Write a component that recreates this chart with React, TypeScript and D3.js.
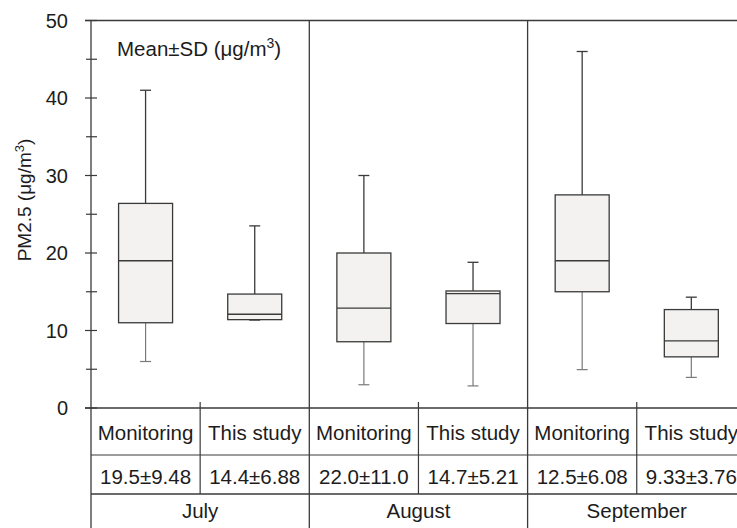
import React from 'react';
import * as d3 from 'd3';

const months = ['July', 'August', 'September'];
const groups = ['Monitoring', 'This study'];

// [whiskerLow, q1, median, q3, whiskerHigh] per month, per group
const monitoringStats = [
  [6.0, 11.0, 19.0, 26.4, 41.0],
  [3.0, 8.55, 12.9, 20.0, 30.0],
  [4.95, 15.0, 19.0, 27.5, 46.0],
];
const studyStats = [
  [11.3, 11.4, 12.1, 14.7, 23.5],
  [2.85, 10.9, 14.75, 15.1, 18.8],
  [3.95, 6.6, 8.65, 12.7, 14.3],
];
const meanSd = [
  ['19.5±9.48', '14.4±6.88'],
  ['22.0±11.0', '14.7±5.21'],
  ['12.5±6.08', '9.33±3.76'],
];
const yTicks = [0, 10, 20, 30, 40, 50];
const yMinorTicks = [5, 15, 25, 35, 45];

const W = 737;
const H = 528;
const left = 91;
const top = 20.5;
const bottom = 408;
const row1 = 455;
const row2 = 494;
const font = '"Liberation Sans", Arial, sans-serif';
const ink = '#3a3a3a';
const txt = '#1c1c1c';

export default function App() {
  const y = d3.scaleLinear().domain([0, 50]).range([bottom, top]);
  const xMonth = d3.scaleBand<string>().domain(months).range([left, left + 3 * 218.3]);
  const xGroup = d3.scaleBand<string>().domain(groups).range([0, xMonth.bandwidth()]);
  const boxW = 54;
  const capW = 11;

  const stats = months.map((m, i) => [monitoringStats[i], studyStats[i]]);

  return (
    <svg width={W} height={H} style={{ position: 'absolute', left: 0, top: 0 }} fontFamily={font}>
      <rect width={W} height={H} fill="#fff" />
      {/* axis and frame */}
      <line x1={85} x2={W} y1={top} y2={top} stroke={ink} strokeWidth={1.3} />
      <line x1={left} x2={left} y1={top} y2={H} stroke={ink} strokeWidth={1.3} />
      {yTicks.map(t => (
        <g key={t}>
          <line x1={85} x2={97} y1={y(t)} y2={y(t)} stroke={ink} strokeWidth={1.2} />
          <text x={68} y={y(t)} dy="0.35em" textAnchor="end" fontSize={20} fill={txt}>{t}</text>
        </g>
      ))}
      {yMinorTicks.map(t => (
        <line key={t} x1={86} x2={97} y1={y(t)} y2={y(t)} stroke={ink} strokeWidth={1.2} />
      ))}
      <text transform={`translate(31,200) rotate(-90)`} textAnchor="middle" fontSize={19} fill={txt}>
        PM2.5 (μg/m<tspan dy="-7" fontSize={13}>3</tspan><tspan dy="7">)</tspan>
      </text>
      <text x={117} y={56} fontSize={20.5} fill={txt}>
        Mean±SD (μg/m<tspan dy="-8" fontSize={14}>3</tspan><tspan dy="8">)</tspan>
      </text>

      {/* table horizontal lines */}
      <line x1={85} x2={W} y1={bottom} y2={bottom} stroke={ink} strokeWidth={1.3} />
      <line x1={left} x2={W} y1={row1} y2={row1} stroke={ink} strokeWidth={1.2} />
      <line x1={left} x2={W} y1={row2} y2={row2} stroke={ink} strokeWidth={1.3} />

      {months.map((m, i) => {
        const x0 = xMonth(m)!;
        return (
          <g key={m}>
            {i > 0 && <line x1={x0} x2={x0} y1={top} y2={H} stroke={ink} strokeWidth={1.3} />}
            <line x1={x0 + xGroup.bandwidth()} x2={x0 + xGroup.bandwidth()} y1={402} y2={row2} stroke={ink} strokeWidth={1.2} />
            <text x={x0 + xMonth.bandwidth() / 2} y={511} dy="0.35em" textAnchor="middle" fontSize={20.5} fill={txt}>{m}</text>
            {groups.map((g, j) => {
              const cx = x0 + xGroup(g)! + xGroup.bandwidth() / 2;
              const [lo, q1, med, q3, hi] = stats[i][j];
              return (
                <g key={g}>
                  <line x1={cx} x2={cx} y1={y(q3)} y2={y(hi)} stroke={ink} strokeWidth={1.3} />
                  <line x1={cx - capW / 2} x2={cx + capW / 2} y1={y(hi)} y2={y(hi)} stroke={ink} strokeWidth={1.3} />
                  <line x1={cx} x2={cx} y1={y(q1)} y2={y(lo)} stroke="#7a7a7a" strokeWidth={1.2} />
                  <line x1={cx - capW / 2} x2={cx + capW / 2} y1={y(lo)} y2={y(lo)} stroke="#7a7a7a" strokeWidth={1.2} />
                  <rect x={cx - boxW / 2} y={y(q3)} width={boxW} height={y(q1) - y(q3)} fill="#f3f2f1" stroke={ink} strokeWidth={1.3} />
                  <line x1={cx - boxW / 2} x2={cx + boxW / 2} y1={y(med)} y2={y(med)} stroke={ink} strokeWidth={1.3} />
                  <text x={cx} y={432.5} dy="0.35em" textAnchor="middle" fontSize={20.5} fill={txt}>{g}</text>
                  <text x={cx} y={477} dy="0.35em" textAnchor="middle" fontSize={20.5} fill={txt}>{meanSd[i][j]}</text>
                </g>
              );
            })}
          </g>
        );
      })}
    </svg>
  );
}
